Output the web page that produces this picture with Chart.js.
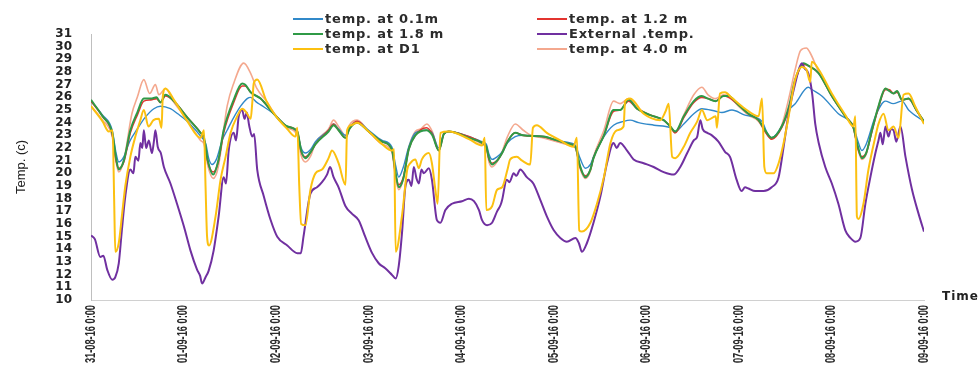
<!DOCTYPE html>
<html>
<head>
<meta charset="utf-8">
<script src="https://cdn.jsdelivr.net/npm/chart.js@4.4.1/dist/chart.umd.min.js"></script>
<style>
  body { margin: 0; background: #fff; }
  #wrap { position: relative; width: 980px; height: 371px; overflow: hidden; }
  #legend { position: absolute; left: 293px; top: 11px; display: grid; grid-template-columns: 244px 244px; }
  .item { display: flex; align-items: center; height: 15px; font: bold 13px "DejaVu Sans", sans-serif; letter-spacing: 0.8px; color: #2b2b2b; white-space: nowrap; }
  .swatch { display: inline-block; width: 30px; height: 2px; margin-right: 2px; }
  #timeLabel { position: absolute; left: 942px; top: 289px; font: bold 12px "DejaVu Sans", sans-serif; letter-spacing: 1px; color: #222; }
</style>
</head>
<body>
<div id="wrap">
  <canvas id="tempChart" width="980" height="371"></canvas>
  <div id="legend"></div>
  <div id="timeLabel">Time</div>
</div>
<script>
// x positions are hours since 31-08-16 0:00
const dateLabels = ["31-08-16 0:00", "01-09-16 0:00", "02-09-16 0:00", "03-09-16 0:00", "04-09-16 0:00",
  "05-09-16 0:00", "06-09-16 0:00", "07-09-16 0:00", "08-09-16 0:00", "09-09-16 0:00"];

const hours01 = [0,3,5.5,6.5,7.2,8.5,10,12,14,16.3,18,20.6,22.5,25,28.8,29.8,30.5,31.4,32.5,34,35.3,37,38.8,40.5,41.4,43,44,47.4,50.9,53.5,54.5,55.6,57,58.2,61.6,62.9,64.2,66,67,69,72,75.5,78,79,79.8,81,82.4,84.1,87,88.5,90.2,91.5,92.8,98,101.4,102.5,103.2,104,105.3,106.6,108,110,112,117.3,120.8,124.3,125.6,126.8,128.2,129.5,130.3,133,135.5,138.1,139.8,142,146,150.2,151.5,153.7,156.3,158.4,162,163.6,166.2,169.6,174,175.3,176.5,179.1,181,182.6,186,187,189.5,193.8,197.7,198.8,199.9,201,203.4,206,208,210.3,212,216];
const temp01 = [25.7,24.6,23.4,21.6,20.9,21.3,22.5,23.5,24.4,25.1,25.3,25.1,24.7,24.1,22.8,22.3,21.2,20.7,21.1,22.6,23.4,24.4,25.3,25.9,26.0,25.6,25.4,24.7,23.7,23.2,22.0,21.6,21.9,22.5,23.4,23.9,23.5,23.0,23.6,24.1,23.4,22.6,22.1,20.6,19.7,20.5,22.1,23.2,23.4,23.2,22.0,23.1,23.3,22.9,22.5,22.3,21.5,21.1,21.3,21.7,22.4,22.9,23.0,22.9,22.6,22.4,22.2,21.2,20.4,20.7,21.3,22.9,23.8,24.1,24.2,24.0,23.8,23.6,23.3,23.9,24.7,25.1,24.9,24.8,25.0,24.6,24.1,23.2,22.8,23.7,25.0,25.5,26.8,26.6,26.1,24.7,23.7,22.6,21.8,22.3,24.5,25.7,25.5,25.7,25.0,24.1];

const hours12 = [0,3,5.5,6.5,7.2,8.5,10.2,12,13.7,15.5,17,18,19.3,21.5,25,28.4,29.3,30.3,31.7,33,34.4,37,39.2,40,41.4,44,47.4,50.9,53.5,54.5,55.6,57,58.2,61.6,62.9,64.2,66,67,69,72,75.5,78,79,79.8,81,82.4,84.1,87,88.5,90.2,91.5,92.8,98,101.4,102.5,103.2,104,105.3,106.6,108,110,112,117.3,120.8,124.3,125.6,126.8,128.2,129.5,130.3,133,135.5,137.2,139.4,141.6,145,148.5,150.2,151.5,153.7,156.3,158.4,160,162,164,165.3,167.9,170.5,173.1,174.8,176.5,179.1,181,182.6,184.8,186,188.7,192.1,195.6,197.7,198.8,199.9,201,202.5,204.2,206,207,208.1,209,210.3,212,214.2,216];
const temp12 = [25.7,24.5,23.1,21.0,20.4,20.9,23.2,24.6,25.7,25.8,25.9,25.6,26.1,25.7,24.4,23.2,22.7,20.9,20.1,20.9,23.2,25.6,26.9,26.9,26.4,25.9,24.7,23.7,23.3,21.7,21.3,21.7,22.3,23.4,23.9,23.4,22.8,23.5,24.1,23.3,22.5,21.9,19.9,19.1,19.7,21.9,23.0,23.6,23.1,21.8,23.1,23.3,22.9,22.4,22.1,21.1,20.8,21.0,21.6,22.5,23.2,23.0,22.9,22.6,22.3,22.1,20.5,19.8,20.3,21.2,23.0,24.9,25.0,25.7,25.1,24.6,24.2,23.7,23.2,24.4,25.6,26.0,25.9,25.7,26.1,26.0,25.4,24.7,24.2,23.3,22.7,23.6,25.2,27.3,28.6,28.5,27.9,26.1,24.5,23.6,22.0,21.3,21.6,23.3,25.2,26.6,26.6,26.3,26.4,25.8,25.9,24.9,24.1];

const hours18 = hours12;
const temp18 = [25.8,24.5,23.2,21.2,20.3,21.0,23.4,24.8,25.9,25.9,26.0,25.6,26.2,25.7,24.4,23.2,22.8,21.0,19.9,21.0,23.4,25.8,27.1,27.0,26.4,25.9,24.7,23.7,23.3,21.8,21.2,21.7,22.3,23.3,23.8,23.4,22.8,23.5,24.0,23.3,22.5,21.9,20.0,18.9,19.6,21.9,23.0,23.4,23.0,21.8,23.1,23.3,22.8,22.4,22.1,21.2,20.7,21.0,21.6,22.5,23.2,23.0,22.9,22.6,22.3,22.1,20.6,19.7,20.3,21.2,23.0,25.0,25.0,25.8,25.1,24.6,24.2,23.7,23.3,24.5,25.7,26.1,25.9,25.7,26.1,26.1,25.4,24.7,24.2,23.4,22.8,23.7,25.3,27.4,28.7,28.5,27.9,26.1,24.5,23.6,22.2,21.2,21.6,23.4,25.3,26.7,26.5,26.3,26.5,25.8,25.9,24.9,24.1];

const hoursExt = [0,1,2.4,3.2,4.2,5.5,6.3,7.2,8,8.9,10.2,11,11.5,12.3,12.8,13.3,13.7,14.3,15,15.8,16.3,16.7,17.3,18.1,18.9,20.6,22.3,24.1,25.8,27.5,28.3,28.8,29.7,30.5,31.8,33.1,34.4,35,35.7,37,37.6,38.3,39.2,39.8,40.4,41,41.8,42.3,43.1,44.8,46.6,48.3,50.9,53.5,54.4,55.1,56.9,58.6,59.9,61.2,62,62.9,64.2,66,67.7,69.4,71.1,72.9,74.6,76.3,78,79,79.8,80.7,81.5,82.4,83.1,83.7,84.4,85,85.7,86.3,87.6,88.4,89.7,90.6,91.9,93.6,96.2,98,99.3,100.6,101.4,102.7,104,105.3,106.2,106.6,107.8,108.5,109.6,110.3,111.3,113,114.7,116.5,118.2,120,121.7,123.4,125.6,126.5,127.3,128.6,130.3,132.1,133.8,135.5,136.3,137.2,139,140.7,143.3,145.9,148.5,151.1,152.8,154.6,156.3,157.2,158,158.6,159.8,161,162.7,164.4,165.7,167.4,168.7,169.6,170.5,172.2,174.4,176.5,178.3,179.6,180.9,182.6,184.3,185,186,187,187.8,188.7,190.4,192.1,193.8,195.6,196.9,198.2,199.5,200.8,202.1,203.4,204.2,204.7,205.3,206,206.8,207.4,208.1,208.8,209.9,211.2,212.9,214.6,216];
const tempExt = [15.1,14.8,13.4,13.5,12.4,11.6,11.8,12.9,15.5,18.2,20.3,20.0,21.3,21.0,22.4,22.0,23.4,22.0,22.6,21.6,22.5,23.4,22.1,21.6,20.5,19.2,17.6,15.8,13.9,12.4,11.9,11.3,11.8,12.3,13.9,16.6,19.7,19.2,21.8,23.2,22.6,24.5,25.0,24.3,24.8,23.8,22.9,23.1,20.3,18.2,16.3,15.0,14.3,13.7,13.7,15.0,18.4,18.9,19.3,19.9,20.5,19.7,18.9,17.4,16.8,16.3,15.0,13.7,12.9,12.5,12.0,11.7,12.7,15.5,18.9,19.5,19.0,20.5,19.6,19.2,20.3,20.0,20.4,19.5,16.3,16.1,17.1,17.6,17.8,18.0,17.8,17.1,16.3,15.9,16.1,17.0,17.5,17.9,19.5,19.3,20.0,19.8,20.3,19.7,19.2,17.9,16.6,15.5,14.9,14.6,14.9,14.5,13.8,14.5,16.1,18.2,20.8,22.4,22.0,22.4,21.8,21.1,20.8,20.5,20.1,19.9,20.5,21.6,22.6,22.9,24.2,23.5,23.2,23.0,22.5,21.7,21.3,19.5,18.6,18.9,18.8,18.6,18.6,18.9,19.7,22.1,24.7,27.1,28.7,28.3,27.9,26.3,23.9,22.4,20.5,19.2,17.6,15.5,14.9,14.6,14.9,17.6,19.7,21.6,22.6,23.2,22.3,23.7,22.9,23.5,23.4,22.5,23.7,21.3,18.7,16.8,15.4];

const hoursD1 = [0,3,4.6,5.6,6,6.3,7.2,8,8.9,10.2,11.5,12.8,13.7,14.9,16.2,17.6,18.3,18.6,19.3,21.5,25,28.4,29.3,29.7,30.1,30.6,32.3,33.6,34.9,36.2,37.9,39.2,40.3,41.4,41.8,42.2,43.1,45.5,48,50.9,53,53.5,54,54.5,55.6,56.9,58.2,59.9,61.6,62.5,64.2,66,66.4,67.5,69,72,75.5,78,78.6,79,80.7,82,82.8,84.1,85,85.8,87.6,88.4,89.3,89.9,90.6,92.8,98,101.4,102.1,102.5,104,105.3,106.6,108,108.7,110.4,111.8,113.9,114.6,115.6,118.2,121.7,125.1,126,126.6,127.3,129.5,131.2,133,134.7,136.4,138.1,138.5,139.8,143.3,147.6,149,149.8,150.7,151.5,153.7,155.4,157.2,158.4,159.8,162,162.3,163.1,164.4,166,169.6,173.1,174,174.6,175.2,177,178.3,179.6,180.9,182.6,184.3,185.5,186.5,186.9,188.7,192.1,195.6,197.7,198.2,198.6,199,200.3,201.6,203.4,204.2,205.5,206.8,208.1,209.4,210.7,212,213.7,216];
const tempD1 = [25.3,24.1,23.3,23.4,18.0,13.8,14.5,16.6,19.0,21.3,22.9,24.2,25.0,23.7,24.2,24.3,23.6,26.0,26.7,25.8,24.1,22.8,23.4,19.0,15.0,14.3,16.6,19.5,21.3,23.2,24.5,25.1,24.8,24.3,25.5,27.1,27.4,25.7,24.5,23.5,22.9,23.6,19.0,16.0,15.9,18.7,20.0,20.3,21.2,21.8,20.8,19.1,23.4,23.8,24.0,23.3,22.3,21.8,21.9,13.8,16.8,20.3,20.8,21.1,20.4,21.1,21.6,20.8,18.7,17.6,23.2,23.3,22.7,22.2,22.8,17.1,17.4,18.7,18.9,20.3,21.1,21.3,21.0,20.7,23.6,23.8,23.2,22.6,22.1,22.8,15.5,15.4,16.1,17.6,19.7,22.4,23.4,23.7,25.7,25.9,24.7,24.2,24.9,25.5,21.3,21.2,22.1,23.2,24.1,25.0,24.2,24.5,23.6,26.3,26.4,26.0,25.1,24.5,25.9,20.5,20.0,20.0,20.8,22.4,24.5,27.4,28.4,28.2,27.2,28.8,28.2,26.3,24.6,23.7,24.5,16.6,16.4,17.6,20.3,22.9,23.9,24.7,23.4,23.7,22.8,26.2,26.3,25.3,23.9];

const hours40 = [0,3,5.5,6.5,7.2,8.5,10.6,12,13.7,15.2,16.7,17.6,19.3,21.5,25,28.4,29.3,30.3,31.7,33,35.3,37,39.6,41.4,43,45.5,48,50.9,53.5,54.5,55.6,57,58.2,61.6,62.9,64.2,66,67,69,72,75.5,78,79,79.8,81,82.4,84.1,85.5,87.1,88.5,90.2,91.5,92.8,98,101.4,102.5,103.2,104,105.3,106.6,108,110,112.1,114,117.3,120.8,124.3,125.6,126.8,128.2,129.5,130.3,133,135.5,137.2,139.4,141.6,145,148.5,150.2,151.5,153.7,156.3,158.4,160,162,164,165.3,167.9,170.5,173.1,174.8,176.5,179.1,181,182.6,184,185.5,186.5,188.7,192.1,195.6,197.7,198.8,199.9,201,202.5,204.2,206,207,208.1,209,210.3,212,214.2,216];
const temp40 = [25.3,24.2,22.9,20.9,20.1,21.0,24.7,26.0,27.4,26.3,27.0,26.2,26.7,25.6,24.2,22.6,22.3,20.6,19.6,20.5,25.3,27.1,28.7,27.9,26.7,25.7,24.5,23.6,23.0,21.4,20.9,21.4,22.4,23.5,24.2,23.7,23.0,23.8,24.2,23.3,22.3,21.7,19.6,18.7,19.6,22.0,23.3,23.5,23.9,23.3,21.8,23.2,23.3,22.8,22.3,22.0,20.9,20.5,20.9,21.7,22.9,23.9,23.4,23.0,22.8,22.5,22.2,22.0,20.4,19.6,20.2,21.3,23.4,25.7,25.5,25.9,25.2,24.6,24.2,23.7,23.2,24.6,26.2,26.8,26.2,25.9,26.2,26.1,25.3,24.6,24.1,23.3,22.7,23.8,26.0,28.2,29.7,29.9,29.5,28.0,26.1,24.5,23.6,22.0,21.1,21.5,23.4,25.3,26.7,26.6,26.3,26.5,25.8,25.9,24.9,24.0];

const seriesLabels = ["temp. at 0.1m", "temp. at 1.2 m", "temp. at 1.8 m", "External .temp.", "temp. at D1", "temp. at 4.0 m"];
const seriesColors = ["#3189c9", "#e3342f", "#2f9a46", "#7030a0", "#fcc010", "#f4a88e"];

function toPoints(hours, temps) {
  return hours.map((h, i) => ({ x: h, y: temps[i] }));
}

// the original uses a condensed font for the dates, so squeeze the rotated text a bit
const condensedDateLabels = {
  id: "condensedDateLabels",
  afterDraw(chart) {
    const xScale = chart.scales.x;
    const c = chart.ctx;
    c.save();
    c.font = "bold 14px 'Liberation Sans', sans-serif";
    c.fillStyle = "#2a2a2a";
    c.textAlign = "right";
    c.textBaseline = "middle";
    dateLabels.forEach((label, i) => {
      const px = xScale.getPixelForValue(i * 24);
      c.save();
      c.translate(px, xScale.top + 5);
      c.rotate(-Math.PI / 2);
      c.scale(0.66, 1);
      c.fillText(label, 0, 0);
      c.restore();
    });
    c.restore();
  },
};

const ctx = document.getElementById("tempChart").getContext("2d");

const tempChart = new Chart(ctx, {
  type: "line",
  data: {
    datasets: [
      { label: seriesLabels[0], data: toPoints(hours01, temp01), borderColor: seriesColors[0], borderWidth: 1.4, order: 4 },
      { label: seriesLabels[1], data: toPoints(hours12, temp12), borderColor: seriesColors[1], borderWidth: 1.6, order: 3 },
      { label: seriesLabels[2], data: toPoints(hours18, temp18), borderColor: seriesColors[2], borderWidth: 2, order: 2 },
      { label: seriesLabels[3], data: toPoints(hoursExt, tempExt), borderColor: seriesColors[3], borderWidth: 2, order: 1 },
      { label: seriesLabels[4], data: toPoints(hoursD1, tempD1), borderColor: seriesColors[4], borderWidth: 2, order: 0 },
      { label: seriesLabels[5], data: toPoints(hours40, temp40), borderColor: seriesColors[5], borderWidth: 1.6, order: 5 },
    ],
  },
  options: {
    responsive: false,
    animation: false,
    layout: { padding: { left: 0, right: 56, top: 34, bottom: 0 } },
    elements: {
      point: { radius: 0 },
      line: { cubicInterpolationMode: "monotone", fill: false },
    },
    scales: {
      x: {
        type: "linear",
        min: 0,
        max: 216,
        afterFit: (scale) => { scale.height = 71; },
        grid: { color: "transparent", drawTicks: false },
        border: { display: true, color: "#d0d0d0", width: 1 },
        ticks: { display: false, stepSize: 24 },
      },
      y: {
        min: 10,
        max: 31,
        afterFit: (scale) => { scale.width = 91; },
        grid: { color: "transparent", drawTicks: false },
        border: { display: true, color: "#bfbfbf", width: 1 },
        ticks: {
          stepSize: 1,
          autoSkip: false,
          padding: 19,
          color: "#222",
          font: { family: "'DejaVu Sans', sans-serif", size: 12, weight: "bold", lineHeight: 1 },
        },
        title: {
          display: true,
          text: "Temp. (c)",
          color: "#222",
          padding: { top: 14, bottom: 0 },
          font: { family: "'Liberation Sans', sans-serif", size: 13 },
        },
      },
    },
    plugins: {
      legend: { display: false },
      tooltip: { enabled: false },
    },
  },
  plugins: [condensedDateLabels],
});

// legend laid out in two columns like the original
const legendBox = document.getElementById("legend");
tempChart.data.datasets.forEach((ds) => {
  const item = document.createElement("div");
  item.className = "item";
  const sw = document.createElement("span");
  sw.className = "swatch";
  sw.style.background = ds.borderColor;
  item.appendChild(sw);
  item.appendChild(document.createTextNode(ds.label));
  legendBox.appendChild(item);
});
</script>
</body>
</html>
